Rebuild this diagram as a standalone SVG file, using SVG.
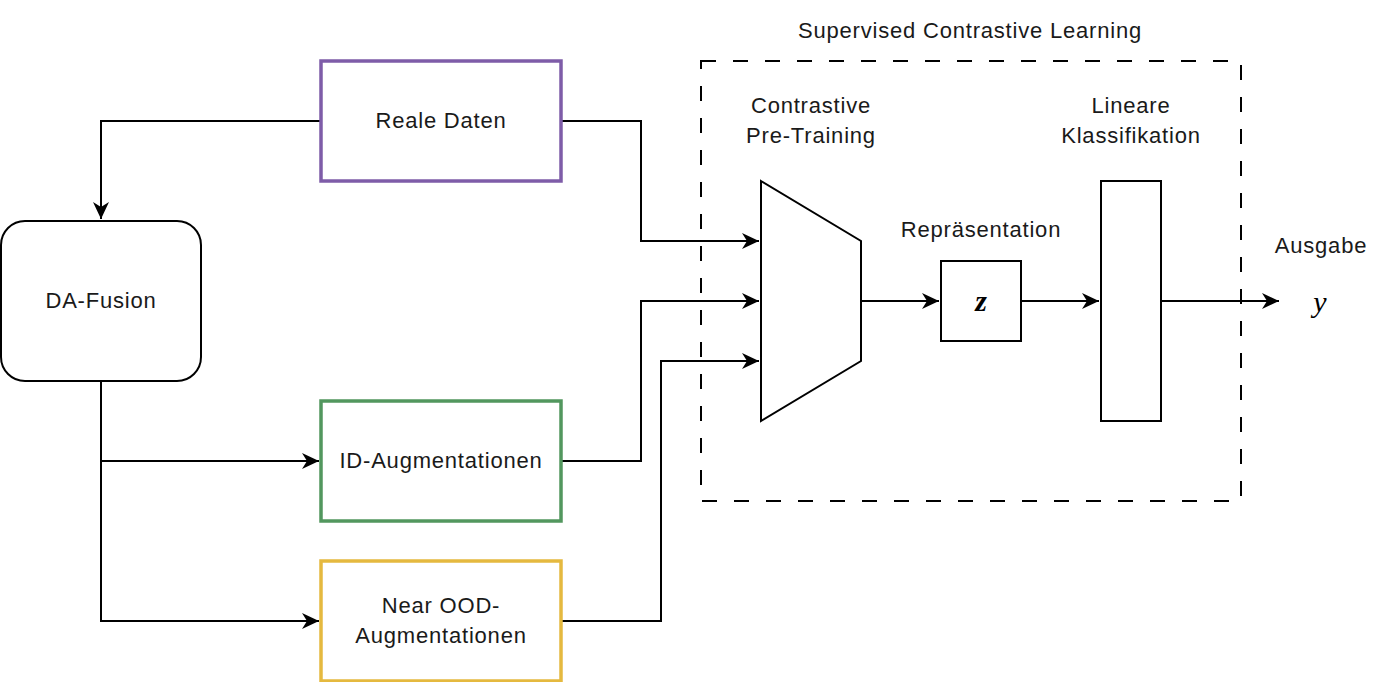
<svg xmlns="http://www.w3.org/2000/svg" width="1392" height="682" viewBox="0 0 1392 682">
<style>
  .lbl{font-family:"Liberation Sans",Arial,sans-serif;font-size:22px;letter-spacing:0.8px;fill:#1a1a1a;text-anchor:middle}
  .box{fill:#ffffff;stroke:#000;stroke-width:2}
  .edge{fill:none;stroke:#000;stroke-width:2}
  .math{font-family:"Liberation Serif","Times New Roman",serif;font-style:italic;fill:#000;text-anchor:middle}
</style>
<defs>
  <marker id="arr" markerUnits="userSpaceOnUse" markerWidth="18" markerHeight="18" refX="17" refY="8" orient="auto" viewBox="0 0 18 16">
    <path d="M0,0 L17,8 L0,16 L5,8 Z" fill="#000"/>
  </marker>
</defs>
<rect width="1392" height="682" fill="#fff"/>

<g id="scl-group">
  <rect x="701" y="61" width="540" height="440" fill="none" stroke="#000" stroke-width="2" stroke-dasharray="15 17"/>
  <text class="lbl" x="970" y="38">Supervised Contrastive Learning</text>
</g>

<g id="connectors">
  <path class="edge" d="M321,121 L101,121 L101,219" marker-end="url(#arr)"/>
  <path class="edge" d="M101,381 L101,461 L319,461" marker-end="url(#arr)"/>
  <path class="edge" d="M101,461 L101,621 L319,621" marker-end="url(#arr)"/>
  <path class="edge" d="M561,121 L641,121 L641,241 L759,241" marker-end="url(#arr)"/>
  <path class="edge" d="M561,461 L641,461 L641,301 L759,301" marker-end="url(#arr)"/>
  <path class="edge" d="M561,621 L661,621 L661,361 L759,361" marker-end="url(#arr)"/>
  <path class="edge" d="M861,301 L939,301" marker-end="url(#arr)"/>
  <path class="edge" d="M1021,301 L1099,301" marker-end="url(#arr)"/>
  <path class="edge" d="M1161,301 L1279,301" marker-end="url(#arr)"/>
</g>

<g id="reale-daten">
  <rect x="321" y="61" width="240" height="120" fill="#fff" stroke="#7E5CA8" stroke-width="3.5"/>
  <text class="lbl" x="441" y="128">Reale Daten</text>
</g>

<g id="da-fusion">
  <rect class="box" x="1" y="221" width="200" height="160" rx="24" ry="24"/>
  <text class="lbl" x="101" y="308">DA-Fusion</text>
</g>

<g id="id-aug">
  <rect x="321" y="401" width="240" height="120" fill="#fff" stroke="#52975E" stroke-width="3.5"/>
  <text class="lbl" x="441" y="468">ID-Augmentationen</text>
</g>

<g id="near-ood">
  <rect x="321" y="561" width="240" height="120" fill="#fff" stroke="#E5B93F" stroke-width="3.5"/>
  <text class="lbl" x="441" y="613">Near OOD-</text>
  <text class="lbl" x="441" y="643">Augmentationen</text>
</g>

<g id="pretraining">
  <path class="box" d="M761,181 L861,241 L861,361 L761,421 Z"/>
  <text class="lbl" x="811" y="113">Contrastive</text>
  <text class="lbl" x="811" y="143">Pre-Training</text>
</g>

<g id="representation">
  <rect class="box" x="941" y="261" width="80" height="80"/>
  <text class="lbl" x="981" y="237">Repräsentation</text>
  <text class="math" x="981" y="311" font-size="30" font-weight="bold">z</text>
</g>

<g id="linear">
  <rect class="box" x="1101" y="181" width="60" height="240"/>
  <text class="lbl" x="1131" y="113">Lineare</text>
  <text class="lbl" x="1131" y="143">Klassifikation</text>
</g>

<g id="output">
  <text class="lbl" x="1321" y="253">Ausgabe</text>
  <text class="math" x="1320" y="312" font-size="30">y</text>
</g>
</svg>
